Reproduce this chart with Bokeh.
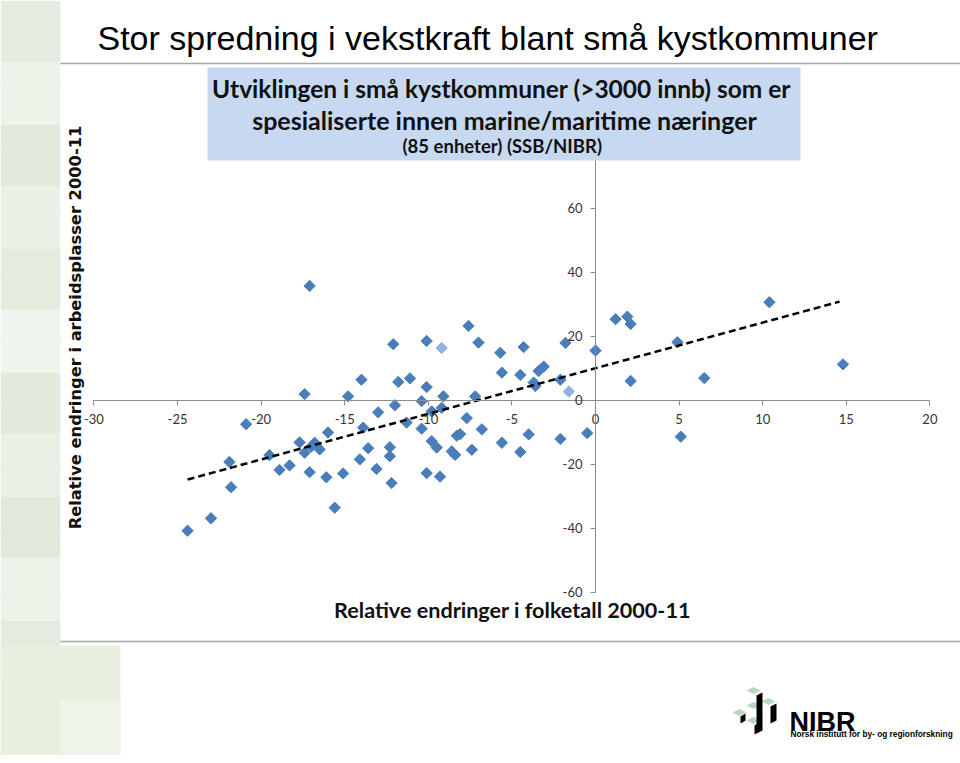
import numpy as np
from bokeh.plotting import figure
from bokeh.models import Range1d, FixedTicker, Label, BoxAnnotation
from bokeh.embed import file_html
from bokeh.resources import INLINE

# ---------------- data ----------------
folk_x = [-17.1, 10.4, 1.2, 1.9, 2.1, -7.6, -10.1, -12.1, -7.0, -4.3, -5.7, -1.8, 0.0, 4.9, 14.8,
          6.5, 2.1, -2.1, -3.4, -3.1, -5.6, -4.5, -3.7, -3.6, -9.1, -7.2, -10.1, -11.1, -11.8, -14.0,
          -14.8, -17.4, -10.4, -12.0, -13.0, -9.2, -9.8, -11.3, -10.4, -13.9, -7.7, -6.8, -8.3, -8.1,
          -4.0, -0.5, -2.1, -5.6, -4.5, -7.4, -8.6, -8.4, -9.8, -9.5, -12.3, -12.3, -13.6, -14.1,
          -13.1, -10.1, -9.3, -12.2, -15.1, -16.1, -17.1, -15.6, -16.0, -17.7, -16.8, -17.0, -17.4,
          -16.5, -19.5, -18.3, -18.9, -21.9, -21.8, -23.0, -24.4, -20.9, 5.1]
arb_y = [35.8, 30.7, 25.4, 26.2, 23.9, 23.3, 18.6, 17.6, 18.1, 16.7, 14.9, 18.0, 15.6, 18.2, 11.3,
         7.0, 6.1, 6.5, 9.2, 10.6, 8.7, 8.0, 5.6, 4.5, 1.3, 1.3, 4.2, 6.9, 5.8, 6.5,
         1.3, 2.0, -0.2, -1.5, -3.7, -2.3, -3.4, -6.9, -8.8, -8.5, -5.5, -9.0, -11.0, -10.5,
         -10.6, -10.2, -12.0, -13.2, -16.1, -15.4, -15.9, -17.0, -12.7, -14.7, -14.6, -17.4, -14.9, -18.4,
         -21.4, -22.7, -23.8, -25.8, -22.8, -24.0, -22.4, -33.5, -10.0, -13.1, -13.2, -14.4, -16.3,
         -15.3, -17.1, -20.3, -21.7, -19.2, -27.1, -36.8, -40.7, -7.4, -11.3]
light_x = [-9.2, -1.6]
light_y = [16.4, 2.8]
trend_x = [-24.4, 14.6]
trend_y = [-24.7, 30.9]

x_ticks = [-30, -25, -20, -15, -10, -5, 0, 5, 10, 15, 20]
x_tick_labels = ["-30", "-25", "-20", "-15", "-10", "-5", "0", "5", "10", "15", "20"]
y_ticks = [-60, -40, -20, 0, 20, 40, 60]
y_tick_labels = ["-60", "-40", "-20", "0", "20", "40", "60"]
y_grid = [-60, -40, -20, 0, 20, 40, 60, 80, 100]

slide_title = "Stor spredning i vekstkraft blant små kystkommuner"
box_lines = ["Utviklingen i små kystkommuner  (>3000 innb) som er",
             "spesialiserte innen marine/maritime næringer",
             "(85 enheter)  (SSB/NIBR)"]
x_title = "Relative endringer i folketall 2000-11"
y_title = "Relative endringer i arbeidsplasser 2000-11"

# ---------------- figure ----------------
W, H = 960, 755
p = figure(width=W, height=H,
           x_range=Range1d(-35.59, 21.83), y_range=Range1d(-110.94, 125.0),
           output_backend="svg", toolbar_location=None, min_border=0,
           outline_line_color=None, background_fill_color="white")
p.extra_x_ranges = {"px": Range1d(0, W)}
p.extra_y_ranges = {"px": Range1d(H, 0)}

# background decoration (slide)
stripe_top = [0, 62, 124, 186, 248, 310, 372, 434, 496, 558, 620]
stripe_cols = ["#e6ede0", "#eef3ea", "#e3eadc", "#ecf1e6", "#e5ecde", "#eff4ec",
               "#e4ebdc", "#ebf0e5", "#e2e9da", "#edf2e8", "#e5ecdf"]
p.quad(left=0, right=60, top=stripe_top, bottom=[t + 62 for t in stripe_top],
       fill_color=stripe_cols, line_color=None, x_range_name="px", y_range_name="px")
p.quad(left=0, right=120, top=645, bottom=H, fill_color="#e8efdf", line_color=None,
       x_range_name="px", y_range_name="px")
p.quad(left=60, right=120, top=700, bottom=H, fill_color="#eff4ea", line_color=None,
       x_range_name="px", y_range_name="px")
p.quad(left=60, right=W, top=63, bottom=641, fill_color="white", line_color=None,
       x_range_name="px", y_range_name="px")
p.segment(x0=60, x1=W, y0=[63, 641], y1=[63, 641], line_color="#a6a6a6", line_width=1.5,
          x_range_name="px", y_range_name="px")

# grid
p.xgrid.visible = False
p.ygrid.ticker = FixedTicker(ticks=y_grid)
p.ygrid.bounds = (-30, 20)
p.ygrid.grid_line_color = "#8c8c8c"
p.ygrid.grid_line_width = 1

# axes crossing at zero
for ax in (p.xaxis, p.yaxis):
    ax.fixed_location = 0
    ax.axis_line_color = "#8c8c8c"
    ax.major_tick_line_color = "#8c8c8c"
    ax.minor_tick_line_color = None
    ax.major_tick_out = 5
    ax.major_tick_in = 0
    ax.major_label_text_font = "Lato"
    ax.major_label_text_font_size = "13px"
    ax.major_label_text_color = "#333333"
p.xaxis.ticker = FixedTicker(ticks=x_ticks)
p.xaxis.bounds = (-30, 20)
p.xaxis.major_label_overrides = dict(zip(x_ticks, x_tick_labels))
p.xaxis.major_label_standoff = 9
p.yaxis.ticker = FixedTicker(ticks=y_ticks)
p.yaxis.bounds = (-60, 100)
p.yaxis.major_label_overrides = dict(zip(y_ticks, y_tick_labels))
p.yaxis.major_label_standoff = 8

# data
p.scatter(folk_x, arb_y, marker="square", size=8, angle=np.pi / 4,
          fill_color="#4a7ebb", line_color="#4a7ebb")
p.scatter(light_x, light_y, marker="square", size=8, angle=np.pi / 4,
          fill_color="#8fb4e3", line_color="#8fb4e3")
p.line(trend_x, trend_y, line_color="black", line_width=2.5, line_dash="7 4")

# title box (above axis)
p.add_layout(BoxAnnotation(left=207, right=800, top=67, bottom=160,
                           x_range_name="px", y_range_name="px",
                           fill_color="#c6d9f1", fill_alpha=1.0, line_color=None))
box_y = [88, 119, 145]
box_sizes = ["24.5px", "25px", "18.5px"]
for txt, yy, fs in zip(box_lines, box_y, box_sizes):
    p.add_layout(Label(x=504, y=yy, x_range_name="px", y_range_name="px", text=txt,
                       text_font="Lato", text_font_style="bold", text_font_size=fs,
                       text_color="#111111", text_align="center", text_baseline="middle"))

# axis titles
p.add_layout(Label(x=512, y=609, x_range_name="px", y_range_name="px", text=x_title,
                   text_font="Lato", text_font_style="bold", text_font_size="21.6px",
                   text_color="#111111", text_align="center", text_baseline="middle"))
p.add_layout(Label(x=75, y=327, x_range_name="px", y_range_name="px", text=y_title,
                   angle=np.pi / 2, text_font="DejaVu Sans", text_font_style="bold",
                   text_font_size="16.3px", text_color="#111111",
                   text_align="center", text_baseline="middle"))

# slide title
p.add_layout(Label(x=97, y=37, x_range_name="px", y_range_name="px", text=slide_title,
                   text_font="Liberation Sans", text_font_size="34px", text_color="black",
                   text_align="left", text_baseline="alphabetic"))

# NIBR logo
tops = [(753, 690), (768, 701), (753, 705), (739, 712), (753, 720)]
p.patches([[cx - 7, cx, cx + 7, cx] for cx, cy in tops],
          [[cy, cy - 3.5, cy, cy + 3.5] for cx, cy in tops],
          fill_color="#b8d8bc", line_color=None, x_range_name="px", y_range_name="px")
bars = [(756, 762, 693, 733), (770, 776, 704, 723), (740, 745, 714, 723), (754, 759, 723, 734)]
p.patches([[l, r, r, l] for l, r, t, b in bars],
          [[t + 2, t - 1, b - 3, b] for l, r, t, b in bars],
          fill_color="black", line_color=None, x_range_name="px", y_range_name="px")
p.add_layout(Label(x=789, y=721, x_range_name="px", y_range_name="px", text="NIBR",
                   text_font="Liberation Sans", text_font_style="bold", text_font_size="27px",
                   text_color="black", text_baseline="alphabetic"))
p.add_layout(Label(x=790, y=733, x_range_name="px", y_range_name="px",
                   text="Norsk institutt for by- og regionforskning",
                   text_font="Liberation Sans", text_font_style="bold", text_font_size="8.3px",
                   text_color="black", text_baseline="alphabetic"))

open("out.html", "w").write(file_html(p, INLINE))
